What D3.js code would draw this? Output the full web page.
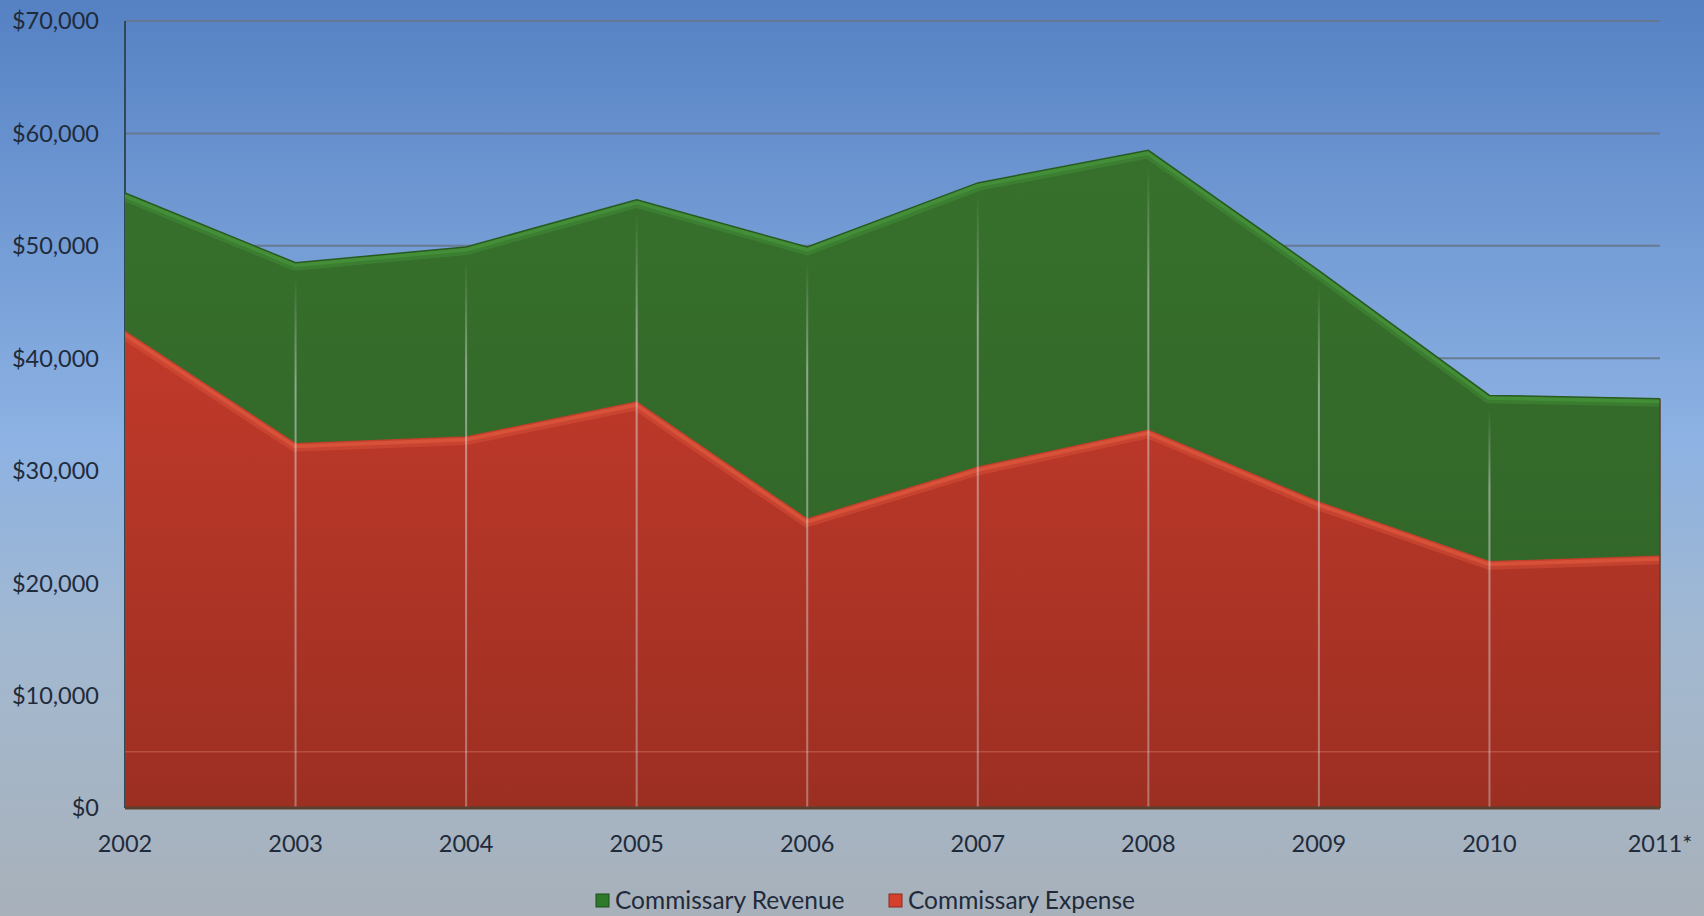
<!DOCTYPE html>
<html>
<head>
<meta charset="utf-8">
<script src="https://cdn.jsdelivr.net/npm/d3@7"></script>
<style>
  html, body { margin: 0; padding: 0; background: #9fb0c2; }
  svg { display: block; }
  text { font-family: Lato, "Open Sans", sans-serif; fill: #1f2b3b; }
</style>
</head>
<body>
<svg id="chart" width="1704" height="916"></svg>
<script>
// ---- data ----
const years = ["2002", "2003", "2004", "2005", "2006", "2007", "2008", "2009", "2010", "2011*"];
const revenue = [54700, 48500, 49900, 54100, 49900, 55600, 58500, 47800, 36700, 36400];
const expense = [42400, 32400, 33000, 36100, 25700, 30300, 33600, 27200, 21900, 22400];
const yTicks = [0, 10000, 20000, 30000, 40000, 50000, 60000, 70000];
const seriesNames = ["Commissary Revenue", "Commissary Expense"];

const W = 1704, H = 916;
const svg = d3.select("#chart");
const defs = svg.append("defs");

// background gradient
const bg = defs.append("linearGradient").attr("id", "bg").attr("x1", 0).attr("y1", 0).attr("x2", 0).attr("y2", 1);
[["0%", "#5581c3"], ["30%", "#78a0d8"], ["48%", "#8db2e3"], ["70%", "#a2b8d0"], ["100%", "#a8b1ba"]]
  .forEach(([o, c]) => bg.append("stop").attr("offset", o).attr("stop-color", c));
svg.append("rect").attr("width", W).attr("height", H).attr("fill", "url(#bg)");

// fill gradients
const gG = defs.append("linearGradient").attr("id", "gG").attr("x1", 0).attr("y1", 0).attr("x2", 0).attr("y2", 1);
gG.append("stop").attr("offset", "0%").attr("stop-color", "#37702c");
gG.append("stop").attr("offset", "100%").attr("stop-color", "#2f6227");
const rG = defs.append("linearGradient").attr("id", "rG").attr("gradientUnits", "userSpaceOnUse")
  .attr("x1", 0).attr("y1", 320).attr("x2", 0).attr("y2", 808);
rG.append("stop").attr("offset", "0%").attr("stop-color", "#c23a2a");
rG.append("stop").attr("offset", "100%").attr("stop-color", "#9c2f22");

// scales
const x = d3.scalePoint().domain(years).range([125, 1660]);
const y = d3.scaleLinear().domain([0, 70000]).range([808, 21]);

// gridlines (back wall)
svg.append("g").selectAll("line").data(yTicks.filter(d => d > 0)).join("line")
  .attr("x1", x(years[0])).attr("x2", x(years[years.length - 1]))
  .attr("y1", d => y(d)).attr("y2", d => y(d))
  .attr("stroke", "#66778a").attr("stroke-width", 2).attr("opacity", 0.9);

// axis line on left
svg.append("line").attr("x1", x(years[0])).attr("x2", x(years[0]))
  .attr("y1", y(70000)).attr("y2", y(0)).attr("stroke", "#2e4a58").attr("stroke-width", 2);

const revData = years.map((yr, i) => ({ yr, v: revenue[i] }));
const expData = years.map((yr, i) => ({ yr, v: expense[i] }));

const area = d3.area().x(d => x(d.yr)).y0(y(0)).y1(d => y(d.v));
const line = d3.line().x(d => x(d.yr)).y(d => y(d.v));

function drawSeries(data, fill, bevel, edge, id) {
  const g = svg.append("g");
  defs.append("clipPath").attr("id", "clip" + id).append("path").attr("d", area(data));
  g.append("path").attr("d", area(data)).attr("fill", fill);
  g.append("path").attr("d", line(data)).attr("fill", "none")
    .attr("stroke", bevel).attr("stroke-width", 16).attr("clip-path", `url(#clip${id})`)
    .attr("opacity", 0.45);
  g.append("path").attr("d", line(data)).attr("fill", "none")
    .attr("stroke", bevel).attr("stroke-width", 9).attr("clip-path", `url(#clip${id})`)
    .attr("opacity", 0.8);
  g.append("path").attr("d", line(data)).attr("fill", "none")
    .attr("stroke", edge).attr("stroke-width", 1.5);
  return g;
}

drawSeries(revData, "url(#gG)", "#45923a", "#285a20", "R");
drawSeries(expData, "url(#rG)", "#dc553c", "#c2402c", "E");

// faint horizontal line across the front
svg.append("g").selectAll("line").data([5000]).join("line")
  .attr("x1", x(years[0])).attr("x2", x(years[years.length - 1]))
  .attr("y1", d => y(d)).attr("y2", d => y(d))
  .attr("stroke", "#d27a62").attr("stroke-width", 1.5).attr("opacity", 0.45);

// vertical year lines on the areas
const vg = defs.append("linearGradient").attr("id", "vg").attr("x1", 0).attr("y1", 0).attr("x2", 0).attr("y2", 1);
vg.append("stop").attr("offset", "0%").attr("stop-color", "#d8d8d8").attr("stop-opacity", 0);
vg.append("stop").attr("offset", "20%").attr("stop-color", "#d8d8d8").attr("stop-opacity", 0.55);
vg.append("stop").attr("offset", "100%").attr("stop-color", "#d8d8d8").attr("stop-opacity", 0.4);
svg.append("g").selectAll("rect").data(revData.slice(1, -1)).join("rect")
  .attr("x", d => x(d.yr) - 1).attr("width", 2)
  .attr("y", d => y(d.v) + 14).attr("height", d => y(0) - y(d.v) - 14)
  .attr("fill", "url(#vg)");

// right edge and bottom edge
svg.append("line").attr("x1", x(years[years.length - 1])).attr("x2", x(years[years.length - 1]))
  .attr("y1", y(revenue[revenue.length - 1])).attr("y2", y(0))
  .attr("stroke", "#5a3a2a").attr("stroke-width", 2).attr("opacity", 0.7);
svg.append("line").attr("x1", x(years[0])).attr("x2", x(years[years.length - 1]))
  .attr("y1", y(0)).attr("y2", y(0)).attr("stroke", "#5b4030").attr("stroke-width", 3);

// y axis labels
svg.append("g").selectAll("text").data(yTicks).join("text")
  .attr("x", 99).attr("y", d => y(d)).attr("dy", "0.36em")
  .attr("text-anchor", "end").attr("font-size", 23.5)
  .text(d => "$" + d3.format(",")(d));

// x axis labels
svg.append("g").selectAll("text").data(years).join("text")
  .attr("x", d => x(d)).attr("y", 852)
  .attr("text-anchor", "middle").attr("font-size", 23.5)
  .text(d => d);

// legend
const legend = [
  { name: seriesNames[0], color: "#2f7a2a", border: "#1d4d1a", x: 596 },
  { name: seriesNames[1], color: "#d4402c", border: "#8a2a1e", x: 889 }
];
const lg = svg.append("g");
legend.forEach(l => {
  lg.append("rect").attr("x", l.x).attr("y", 894).attr("width", 13).attr("height", 13)
    .attr("fill", l.color).attr("stroke", l.border).attr("stroke-width", 1);
  lg.append("text").attr("x", l.x + 19).attr("y", 909).attr("font-size", 24.5).text(l.name);
});
</script>
</body>
</html>
